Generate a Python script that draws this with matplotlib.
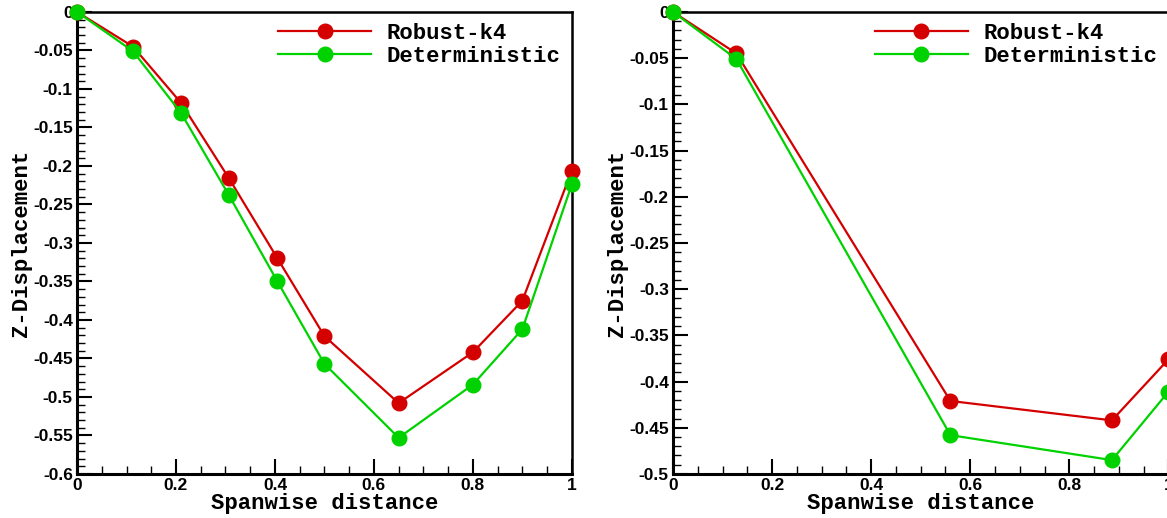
import matplotlib
matplotlib.use('Agg')
import matplotlib.pyplot as plt
from matplotlib.ticker import MultipleLocator, FuncFormatter

# left panel
x_left = [0, 0.113, 0.21, 0.307, 0.405, 0.5, 0.65, 0.8, 0.9, 1.0]
robust_left = [0, -0.045, -0.118, -0.216, -0.320, -0.421, -0.508, -0.442, -0.375, -0.206]
determ_left = [0, -0.051, -0.131, -0.238, -0.350, -0.457, -0.553, -0.484, -0.412, -0.224]

# right panel
x_right = [0, 0.128, 0.56, 0.886, 1.0]
robust_right = [0, -0.045, -0.421, -0.442, -0.376]
determ_right = [0, -0.051, -0.458, -0.485, -0.411]

names = ['Robust-k4', 'Deterministic']
red = '#d40000'
green = '#00d200'

mono = 'Liberation Mono'
sans = 'Liberation Sans'


def fmt(v, pos):
    v = round(v, 4)
    if v == 0:
        return '0'
    return '%g' % v


def style(ax, ymin):
    ax.set_xlim(0, 1)
    ax.set_ylim(ymin, 0)
    ax.xaxis.set_major_locator(MultipleLocator(0.2))
    ax.xaxis.set_minor_locator(MultipleLocator(0.05))
    ax.yaxis.set_major_locator(MultipleLocator(0.05))
    ax.yaxis.set_minor_locator(MultipleLocator(0.01))
    ax.xaxis.set_major_formatter(FuncFormatter(fmt))
    ax.yaxis.set_major_formatter(FuncFormatter(fmt))
    ax.tick_params(which='major', direction='in', length=11, width=1.5,
                   top=False, right=False, pad=3)
    ax.tick_params(which='minor', direction='in', length=6, width=1,
                   top=False, right=False)
    for lab in ax.get_xticklabels() + ax.get_yticklabels():
        lab.set_fontfamily(sans)
        lab.set_fontweight('bold')
        lab.set_fontsize(12.5)
    for s in ['left', 'bottom']:
        ax.spines[s].set_linewidth(2.2)
    for s in ['top', 'right']:
        ax.spines[s].set_linewidth(1.8)
    ax.set_xlabel('Spanwise distance', fontfamily=mono, fontweight='bold',
                  fontsize=16, labelpad=0)
    ax.set_ylabel('Z-Displacement', fontfamily=mono, fontweight='bold',
                  fontsize=16, labelpad=1)


fig = plt.figure(figsize=(11.67, 5.18), dpi=100)
ax1 = fig.add_axes([0.066, 0.085, 0.424, 0.892])
ax2 = fig.add_axes([0.5767, 0.085, 0.4245, 0.892])

for ax, xs, r, g in [(ax1, x_left, robust_left, determ_left),
                     (ax2, x_right, robust_right, determ_right)]:
    ax.plot(xs, r, color=red, marker='o', markersize=10.5, linewidth=1.6,
            label=names[0], clip_on=False, zorder=3)
    ax.plot(xs, g, color=green, marker='o', markersize=10.5, linewidth=1.6,
            label=names[1], clip_on=False, zorder=3)
    ax.legend(loc='upper right', frameon=False,
              prop={'family': mono, 'weight': 'bold', 'size': 16},
              handlelength=4.2, handletextpad=0.7, labelspacing=0.1,
              borderpad=0.1, borderaxespad=0.4)

style(ax1, -0.6)
style(ax2, -0.5)

fig.savefig('out.png', dpi=100)
